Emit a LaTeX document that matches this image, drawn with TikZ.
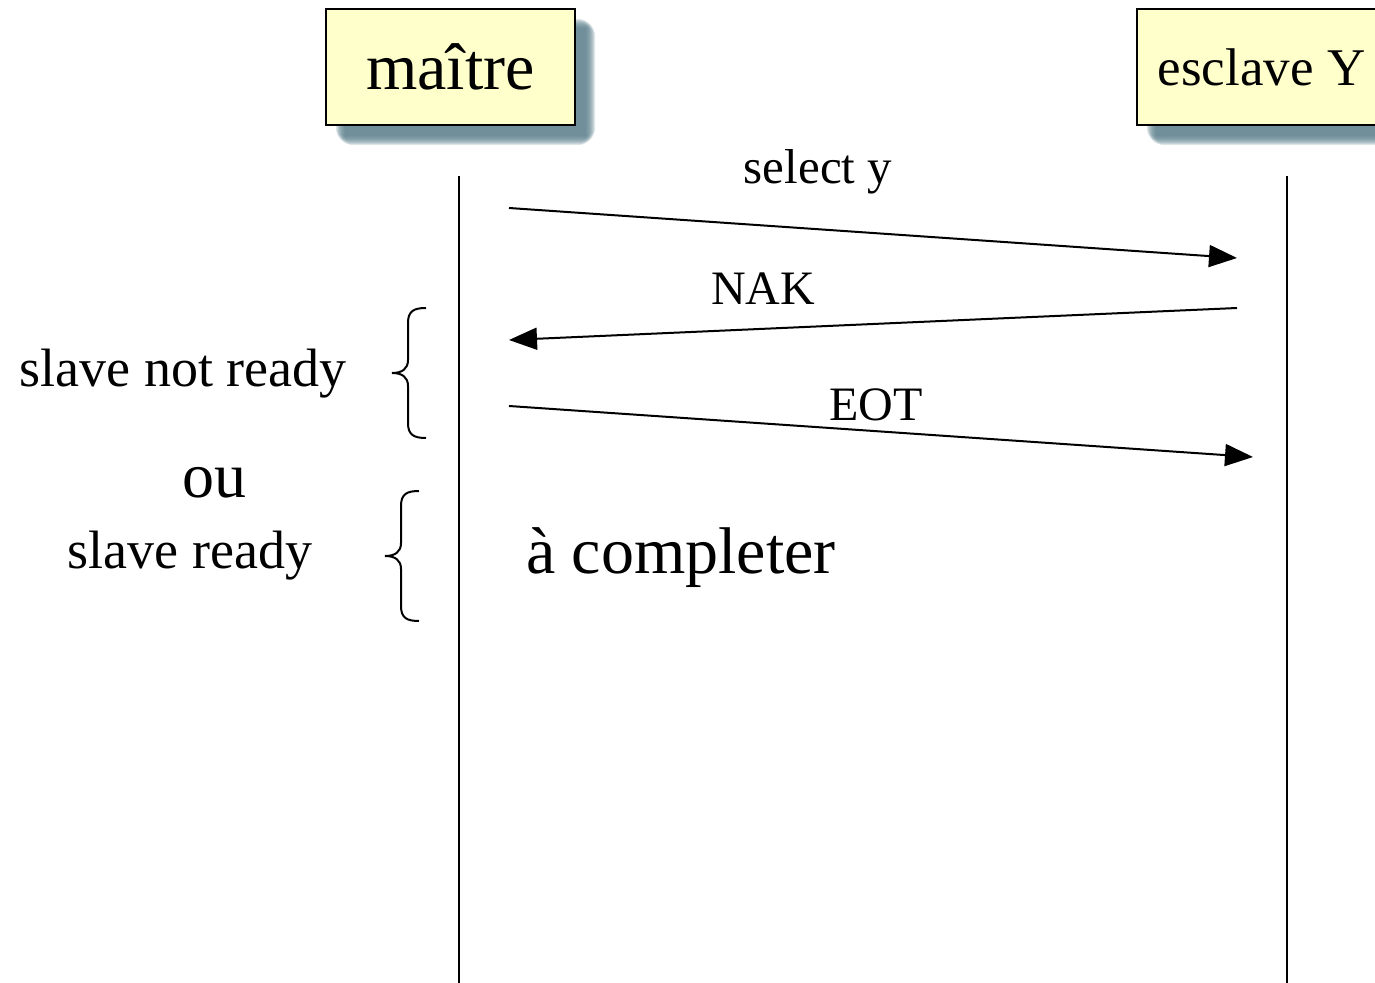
\documentclass[tikz,border=0pt]{standalone}
\usepackage{fontspec}
\setmainfont{Liberation Serif}
\usetikzlibrary{arrows.meta,backgrounds,calc}
\definecolor{boxyellow}{RGB}{255,255,204}
\definecolor{shadowblue}{RGB}{92,128,141}
\tikzset{
  actor/.style={draw, line width=1.2pt, fill=boxyellow, minimum width=124.5pt, minimum height=58pt, inner sep=0pt},
  msg/.style={line width=1pt, -{Triangle[length=14pt,width=11pt]}},
  lifeline/.style={line width=1pt},
  lbl/.style={anchor=base, inner sep=0pt},
  curly/.pic={\draw[line width=1pt] (0,0) .. controls (-12,0) and (-18,3) .. (-18,15)
      -- (-18,52) .. controls (-18,61) and (-24,65) .. (-34,65)
      .. controls (-24,65) and (-18,69) .. (-18,78)
      -- (-18,115) .. controls (-18,127) and (-12,130) .. (0,130);},
}
\newcommand{\fsz}[1]{\fontsize{#1}{#1}\selectfont}
\begin{document}
\begin{tikzpicture}[x=0.5pt, y=-0.5pt]
  \useasboundingbox (0,0) rectangle (1375,983);
  % participants
  \node[actor] (master) at (450.5,67) {\fsz{33}maître};
  \node[actor] (slave) at (1261.5,67) {\fsz{26.5}esclave Y};
  \begin{scope}[on background layer]
    \foreach \b in {master,slave}
      \foreach \k in {0,...,9}
        \fill[shadowblue, opacity=0.19, rounded corners=\k pt]
          ($(\b.north west)+(20-\k,20-\k)$) rectangle ($(\b.south east)+(10+\k,10+\k)$);
  \end{scope}
  % lifelines
  \coordinate (mtop) at (459,176); \coordinate (mbot) at (459,983);
  \coordinate (stop) at (1287,176); \coordinate (sbot) at (1287,983);
  \draw[lifeline] (mtop) -- (mbot);
  \draw[lifeline] (stop) -- (sbot);
  % messages
  \coordinate (sel0) at (509,208); \coordinate (sel1) at (1237,258);
  \coordinate (nak0) at (1237,308); \coordinate (nak1) at (509,340);
  \coordinate (eot0) at (509,406); \coordinate (eot1) at (1253,457);
  \draw[msg] (sel0) -- (sel1);
  \draw[msg] (nak0) -- (nak1);
  \draw[msg] (eot0) -- (eot1);
  \node[lbl] (lsel) at (818,184) {\fsz{24.5}select y};
  \node[lbl] (lnak) at (763,305) {\fsz{24}NAK};
  \node[lbl] (leot) at (876,421) {\fsz{24}EOT};
  % cases
  \pic at (426,308) {curly};
  \pic at (419,491) {curly};
  \node[lbl] (notready) at (183,387) {\fsz{27}slave not ready};
  \node[lbl] (ou) at (214,498) {\fsz{32}ou};
  \node[lbl] (ready) at (190,568) {\fsz{27}slave ready};
  \node[lbl] (todo) at (681,574) {\fsz{33}à completer};
\end{tikzpicture}
\end{document}
